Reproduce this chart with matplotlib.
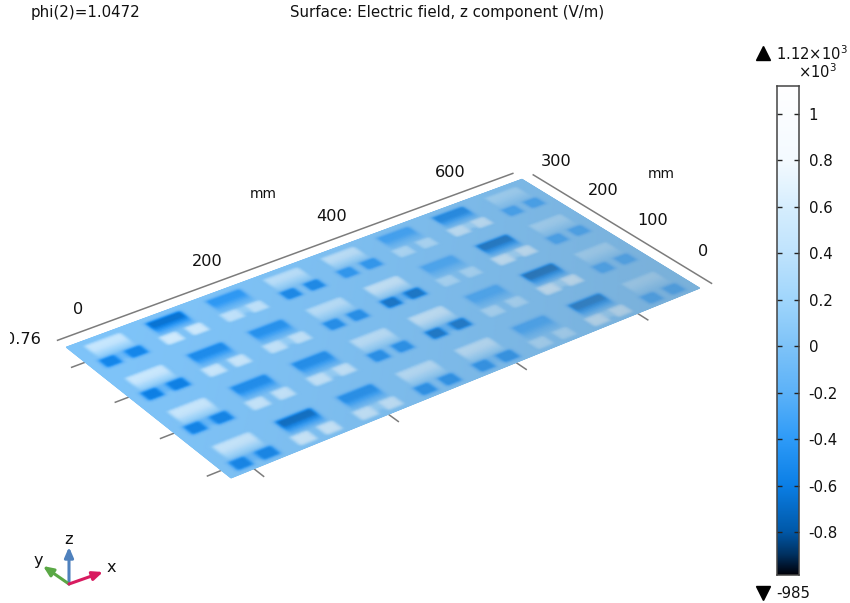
import numpy as np
import matplotlib
matplotlib.use("Agg")
import matplotlib.pyplot as plt
from matplotlib.colors import LinearSegmentedColormap, Normalize

# ---------- values ----------
title_left = "phi(2)=1.0472"
title_center = "Surface: Electric field, z component (V/m)"
x_ticks = [0, 200, 400, 600]
y_ticks = [0, 100, 200, 300]
cbar_ticks = [-0.8, -0.6, -0.4, -0.2, 0, 0.2, 0.4, 0.6, 0.8, 1]
cbar_labels = ["-0.8", "-0.6", "-0.4", "-0.2", "0", "0.2", "0.4", "0.6", "0.8", "1"]
vmin, vmax = -0.985, 1.12

# patch strengths (kV/m): rows run from the y-max edge towards y-min, columns along x
bar_values = [
    [0.46, -0.66, -0.42, 0.40, 0.44, -0.36, -0.58, 0.26],
    [0.50, -0.52, -0.48, 0.40, 0.54, -0.32, -0.72, 0.30],
    [0.50, -0.52, -0.52, 0.44, 0.54, -0.33, -0.76, 0.30],
    [0.50, -0.72, -0.52, 0.44, 0.48, -0.36, -0.72, 0.32],
]
foot_values = [
    [-0.55, 0.56, 0.44, -0.55, -0.45, 0.34, 0.54, -0.38],
    [-0.60, 0.52, 0.48, -0.52, -0.70, 0.32, 0.62, -0.38],
    [-0.58, 0.50, 0.52, -0.52, -0.70, 0.34, 0.66, -0.38],
    [-0.58, 0.56, 0.52, -0.52, -0.52, 0.34, 0.62, -0.42],
]
feed_values = [
    [-0.25, 0.0, 0.30, 0.0, 0.0, 0.0, 0.45, 0.0],
    [-0.30, 0.0, 0.30, 0.0, -0.40, 0.0, 0.50, 0.0],
    [-0.30, 0.0, 0.30, 0.0, -0.40, 0.0, 0.50, 0.0],
    [-0.30, 0.0, 0.30, 0.0, -0.20, 0.0, 0.45, 0.0],
]
cell_x = [14, 106, 199, 291, 383, 475, 568, 660]
cell_y = [305, 210, 115, 20]

cmap_values = [-0.985, -0.9, -0.8, -0.6, -0.4, -0.2, 0, 0.2, 0.4, 0.6, 0.8, 1.12]
cmap_colors = ["#000008", "#00305f", "#0058a8", "#0b7fe6", "#2e9bf8", "#5cb2f8",
               "#7ec3f8", "#a0d6fc", "#bfe3fd", "#d6eefe", "#f4faff", "#ffffff"]

plate_mm = [(-33, -20), (707, -20), (707, 345), (-33, 345)]
plate_px = [(231, 478), (700, 288), (522, 179), (66, 347)]
AXIS_GAP = 20

# ---------- projection from the plate (mm) to figure pixels ----------
def solve_h(src, dst):
    A, b = [], []
    for (x, y), (u, v) in zip(src, dst):
        A.append([x, y, 1, 0, 0, 0, -u * x, -u * y]); b.append(u)
        A.append([0, 0, 0, x, y, 1, -v * x, -v * y]); b.append(v)
    return np.append(np.linalg.solve(np.array(A, float), np.array(b, float)), 1).reshape(3, 3)

H = solve_h(plate_mm, plate_px)

def proj(x, y):
    x, y = np.asarray(x, float), np.asarray(y, float)
    w = H[2, 0] * x + H[2, 1] * y + H[2, 2]
    return (H[0, 0] * x + H[0, 1] * y + H[0, 2]) / w, (H[1, 0] * x + H[1, 1] * y + H[1, 2]) / w

# ---------- paint the field on the plate ----------
step = 1.5
gx = np.arange(plate_mm[0][0], plate_mm[1][0] + step / 2, step)
gy = np.arange(plate_mm[0][1], plate_mm[2][1] + step / 2, step)
GX, GY = np.meshgrid(gx, gy)
Z = np.zeros_like(GX)

def paint(x0, x1, y0, y1, val, fade=False):
    m = (GX >= x0) & (GX <= x1) & (GY >= y0) & (GY <= y1)
    if fade:
        Z[m] = val * np.clip((GY[m] - y0) / (0.62 * (y1 - y0)), 0, 1)
    else:
        Z[m] = val

for j, cy in enumerate(cell_y):
    for i, cx in enumerate(cell_x):
        paint(cx - 27, cx + 27, cy - 9, cy + 30, bar_values[j][i], fade=True)
        foot = foot_values[j][i]
        for s in (-1, 1):
            paint(cx + s * 19 - 12, cx + s * 19 + 12, cy - 31, cy - 9, foot)
        feed = feed_values[j][i]
        if feed:
            for d in (-3, 3):
                paint(cx + d - 1.5, cx + d + 1.5, cy - 26, cy - 9, feed)

def blur(a, n):
    for _ in range(n):
        a = (np.pad(a, ((1, 1), (0, 0)), mode="edge")[2:] + 2 * a + np.pad(a, ((1, 1), (0, 0)), mode="edge")[:-2]) / 4
        a = (np.pad(a, ((0, 0), (1, 1)), mode="edge")[:, 2:] + 2 * a + np.pad(a, ((0, 0), (1, 1)), mode="edge")[:, :-2]) / 4
    return a

Z = blur(Z, 6)

# ---------- figure in pixel coordinates ----------
plt.rcParams["font.family"] = "DejaVu Sans"
plt.rcParams["mathtext.fontset"] = "dejavusans"
fig = plt.figure(figsize=(8.5, 6.03), dpi=100)
ax = fig.add_axes([0, 0, 1, 1])
ax.set_xlim(0, 850)
ax.set_ylim(603, 0)
ax.axis("off")

cmap = LinearSegmentedColormap.from_list(
    "efield", [((v - vmin) / (vmax - vmin), c) for v, c in zip(cmap_values, cmap_colors)], N=512)
norm = Normalize(vmin, vmax)

PX, PY = proj(GX, GY)
mesh = ax.pcolormesh(PX, PY, Z, cmap=cmap, norm=norm, shading="gouraud", zorder=2)
# surface lighting: the plate turns greyer towards the far right corner
U = (GX - gx[0]) / (gx[-1] - gx[0])
V = (GY - gy[0]) / (gy[-1] - gy[0])
t = np.clip(0.8 * U + 0.35 * (1 - V) - 0.08, 0, 1) ** 1.3
rgba = cmap(norm(Z))
grey = np.array([0.46, 0.62, 0.74])
lit = rgba[..., :3] * (1 - t[..., None]) + (rgba[..., :3] * 0.5 + grey * 0.5) * t[..., None]
mesh.set_array(None)
mesh.set_facecolor(np.dstack([lit, np.ones_like(t)]).reshape(-1, 4))

# axes frame
AXC = "#7c7c7c"
TXT = "#111111"
xmin, xmax = plate_mm[0][0], plate_mm[1][0]
ymin, ymax = plate_mm[0][1], plate_mm[2][1]
ax.plot(*proj([xmin, xmax], [ymax + AXIS_GAP] * 2), color=AXC, lw=1.1, zorder=3)
ax.plot(*proj([xmax + AXIS_GAP] * 2, [ymin, ymax]), color=AXC, lw=1.1, zorder=3)
for v in x_ticks:
    ax.plot(*proj([v, v], [ymin, ymin - AXIS_GAP]), color=AXC, lw=1.1, zorder=1)
    lx, ly = proj(v, ymax + AXIS_GAP)
    ax.text(lx - 2, ly - 23, str(v), fontsize=11.6, ha="center", va="center", color=TXT)
for v in y_ticks:
    ax.plot(*proj([xmin, xmin - AXIS_GAP], [v, v]), color=AXC, lw=1.1, zorder=1)
    lx, ly = proj(xmax + AXIS_GAP, v)
    ax.text(lx + 2, ly - 26, str(v), fontsize=11.6, ha="center", va="center", color=TXT)
ax.text(263, 194, "mm", fontsize=9.8, ha="center", va="center", color=TXT)
ax.text(661, 174, "mm", fontsize=9.8, ha="center", va="center", color=TXT)
t076 = ax.text(41, 340, "0.76", fontsize=11.6, ha="right", va="center", color=TXT)
t076.set_clip_box(matplotlib.transforms.Bbox([[10, 0], [100, 603]]))
t076.set_clip_on(True)

# titles
ax.text(31, 13, title_left, fontsize=10.8, ha="left", va="center", color=TXT)
ax.text(447.5, 13, title_center, fontsize=10.8, ha="center", va="center", color=TXT)

# triad
triad = [((69, 584), (69, 547), "#4f81bd", "z", (69, 539)),
         ((69, 584), (43, 566), "#5aa845", "y", (38, 561)),
         ((69, 584), (103, 572), "#d81b60", "x", (111, 568))]
for o, e, c, lab, lp in triad:
    ax.annotate("", xy=e, xytext=o,
                arrowprops=dict(arrowstyle="-|>,head_width=0.26,head_length=0.6", color=c, lw=2.2,
                                shrinkA=0, shrinkB=0), zorder=4)
    ax.text(*lp, lab, fontsize=11.6, ha="center", va="center", color=TXT)

# colorbar
cax = fig.add_axes([777 / 850, 1 - 575 / 603, 22 / 850, (575 - 86) / 603])
grad = np.linspace(vmin, vmax, 512).reshape(-1, 1)
cax.imshow(grad, aspect="auto", cmap=cmap, norm=norm, origin="lower", extent=[0, 1, vmin, vmax],
           interpolation="bilinear")
cax.set_xticks([])
cax.set_yticks(cbar_ticks)
cax.set_yticklabels(cbar_labels, fontsize=10.8, color=TXT)
cax.tick_params(axis="y", direction="in", left=True, right=True, labelleft=False, labelright=True,
                length=3.5, width=1, color="#222222", pad=7)
for s in cax.spines.values():
    s.set_color("#444444")
    s.set_linewidth(1.1)

ax.text(776, 54, r"1.12$\times$10$^{3}$", fontsize=10.6, ha="left", va="center", color=TXT)
ax.text(798, 72, r"$\times$10$^{3}$", fontsize=10.6, ha="left", va="center", color=TXT)
ax.text(776, 593, "-985", fontsize=10.8, ha="left", va="center", color=TXT)
ax.plot([763], [53], marker="^", ms=10, color="black", ls="none", zorder=5)
ax.plot([763], [593], marker="v", ms=10, color="black", ls="none", zorder=5)

fig.savefig("out.png", dpi=100)
